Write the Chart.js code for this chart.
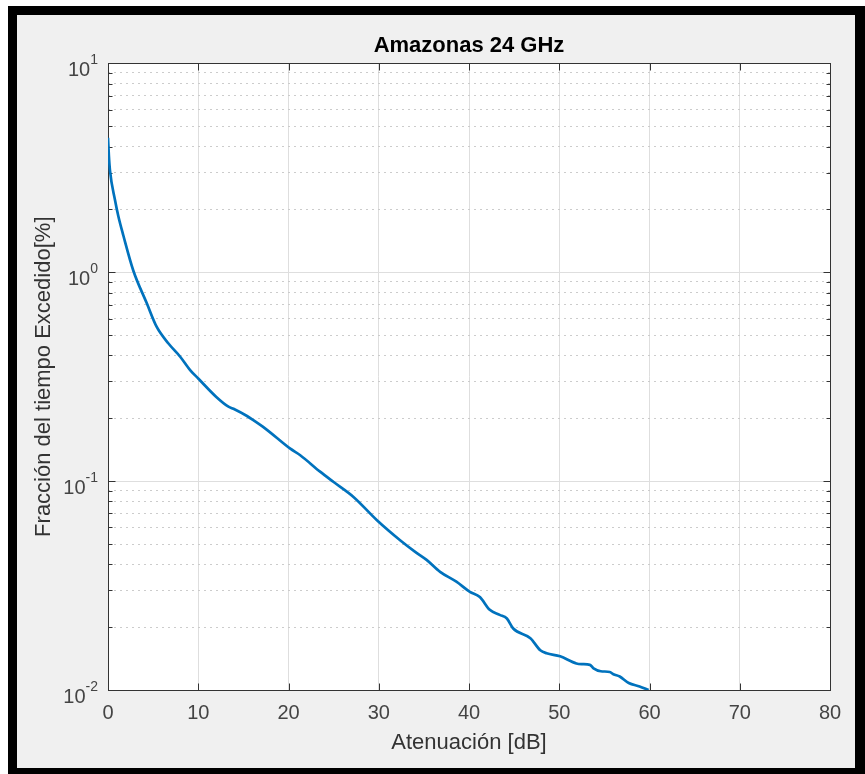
<!DOCTYPE html>
<html>
<head>
<meta charset="utf-8">
<title>Amazonas 24 GHz</title>
<script src="https://cdn.jsdelivr.net/npm/chart.js@4.4.1/dist/chart.umd.min.js"></script>
<style>
  body { margin: 0; background: #fff; }
  #frame { position: absolute; left: 8px; top: 6px; width: 857px; height: 768px; background: #000; }
  #inner { position: absolute; left: 17px; top: 15px; width: 838px; height: 753px; background: #f0f0f0; }
  #myChart { position: absolute; left: 0; top: 0; }
</style>
</head>
<body>
<div id="frame"></div>
<div id="inner"></div>
<canvas id="myChart" width="865" height="774"></canvas>
<script>
// atenuacion en dB, fraccion del tiempo excedido en %
const atenuacion = [0, 0.1, 0.22, 0.78, 1.14, 1.7, 2.8, 4.3, 5.4, 6.7, 8.0, 9.1, 10.0, 12.0, 13.3, 13.9,
  15.4, 16.1, 17.4, 20.2, 21.3, 23.5, 25.0, 27.2, 29.8, 32.4, 34.0, 35.3, 36.8, 38.6, 40.1, 41.2,
  42.3, 43.4, 44.2, 44.9, 46.8, 47.9, 48.6, 50.1, 51.9, 52.5, 53.4, 53.8, 54.6, 55.6, 56.0, 56.7,
  57.7, 58.9, 59.9];
const fraccion = [4.4, 3.6, 3.07, 2.21, 1.86, 1.5, 1.02, 0.71, 0.547, 0.456, 0.394, 0.34, 0.31, 0.253, 0.228, 0.222,
  0.205, 0.196, 0.179, 0.143, 0.133, 0.111, 0.099, 0.084, 0.065, 0.052, 0.046, 0.042, 0.0368, 0.033, 0.0295, 0.0279,
  0.0242, 0.0229, 0.0220, 0.0197, 0.0177, 0.0155, 0.0150, 0.0145, 0.0134, 0.0133, 0.0132, 0.0127, 0.0123, 0.0122, 0.0119, 0.0116,
  0.0108, 0.0104, 0.0100];

const xTicks = [0, 10, 20, 30, 40, 50, 60, 70, 80];
const yTicks = [0.01, 0.02, 0.03, 0.04, 0.05, 0.06, 0.07, 0.08, 0.09,
  0.1, 0.2, 0.3, 0.4, 0.5, 0.6, 0.7, 0.8, 0.9,
  1, 2, 3, 4, 5, 6, 7, 8, 9, 10];
const yMajorLabels = [[0.01, '-2'], [0.1, '-1'], [1, '0'], [10, '1']];

const FONT = '"Liberation Sans", Arial, Helvetica, sans-serif';

function isMajor(v) {
  const l = Math.log10(v);
  return Math.abs(l - Math.round(l)) < 1e-9;
}

const ejes = {
  id: 'ejes',
  beforeDraw(chart) {
    const { ctx, chartArea: a } = chart;
    ctx.save();
    ctx.fillStyle = '#fff';
    ctx.fillRect(a.left, a.top, a.right - a.left, a.bottom - a.top);
    ctx.restore();
  },
  beforeDatasetsDraw(chart) {
    const { ctx, chartArea: a, scales } = chart;
    const L = Math.round(a.left) + 0.5, R = Math.round(a.right) + 0.5;
    const T = Math.round(a.top) + 0.5, B = Math.round(a.bottom) + 0.5;
    ctx.save();
    ctx.strokeStyle = '#333';
    ctx.lineWidth = 1;
    ctx.beginPath();
    xTicks.forEach(v => {
      const px = Math.round(scales.x.getPixelForValue(v)) + 0.5;
      ctx.moveTo(px, B); ctx.lineTo(px, B - 7);
      ctx.moveTo(px, T); ctx.lineTo(px, T + 7);
    });
    yTicks.forEach(v => {
      const py = Math.round(scales.y.getPixelForValue(v)) + 0.5;
      const len = isMajor(v) ? 7 : 4;
      ctx.moveTo(L, py); ctx.lineTo(L + len, py);
      ctx.moveTo(R, py); ctx.lineTo(R - len, py);
    });
    ctx.stroke();
    ctx.strokeRect(L, T, R - L, B - T);
    ctx.restore();
  },
  afterDraw(chart) {
    const { ctx, chartArea: a, scales } = chart;
    ctx.save();
    ctx.fillStyle = '#444';
    ctx.textAlign = 'right';
    ctx.textBaseline = 'alphabetic';
    yMajorLabels.forEach(([v, e]) => {
      const py = scales.y.getPixelForValue(v);
      const right = a.left - 10;
      ctx.font = '14px ' + FONT;
      ctx.fillText(e, right, py + 1);
      const w = ctx.measureText(e).width;
      ctx.font = '20px ' + FONT;
      ctx.fillText('10', right - w, py + 13);
    });
    ctx.restore();
  }
};

new Chart(document.getElementById('myChart'), {
  type: 'line',
  data: {
    datasets: [{
      data: atenuacion.map((x, i) => ({ x: x, y: fraccion[i] })),
      borderColor: '#0072bd',
      borderWidth: 2.7,
      pointRadius: 0,
      fill: false,
      cubicInterpolationMode: 'monotone'
    }]
  },
  options: {
    responsive: false,
    animation: false,
    layout: { padding: { left: 0, right: 35, top: 0, bottom: 0 } },
    plugins: {
      legend: { display: false },
      tooltip: { enabled: false },
      title: {
        display: true,
        text: 'Amazonas 24 GHz',
        fullSize: false,
        color: '#000',
        font: { family: FONT, size: 22, weight: 'bold' },
        padding: { top: 33, bottom: 4 }
      }
    },
    scales: {
      x: {
        type: 'linear',
        min: 0,
        max: 80,
        ticks: { stepSize: 10, color: '#444', font: { family: FONT, size: 20 }, padding: 11, maxRotation: 0 },
        grid: { color: '#dedede', drawTicks: false },
        border: { display: false },
        title: {
          display: true,
          text: 'Atenuación [dB]',
          color: '#333',
          font: { family: FONT, size: 22 },
          padding: { top: 0, bottom: 18 }
        },
        afterFit: s => { s.height = 84; }
      },
      y: {
        type: 'logarithmic',
        min: 0.01,
        max: 10,
        afterBuildTicks: s => { s.ticks = yTicks.map(v => ({ value: v, major: isMajor(v) })); },
        ticks: { display: false },
        grid: {
          color: c => (c.tick && !isMajor(c.tick.value)) ? '#cccccc' : '#dedede',
          drawTicks: false
        },
        border: {
          display: false,
          dash: c => (c.tick && !isMajor(c.tick.value)) ? [2, 4] : []
        },
        title: {
          display: true,
          text: 'Fracción del tiempo Excedido[%]',
          color: '#333',
          font: { family: FONT, size: 22 },
          padding: { top: 31, bottom: 0 }
        },
        afterFit: s => { s.width = 108; }
      }
    }
  },
  plugins: [ejes]
});
</script>
</body>
</html>
